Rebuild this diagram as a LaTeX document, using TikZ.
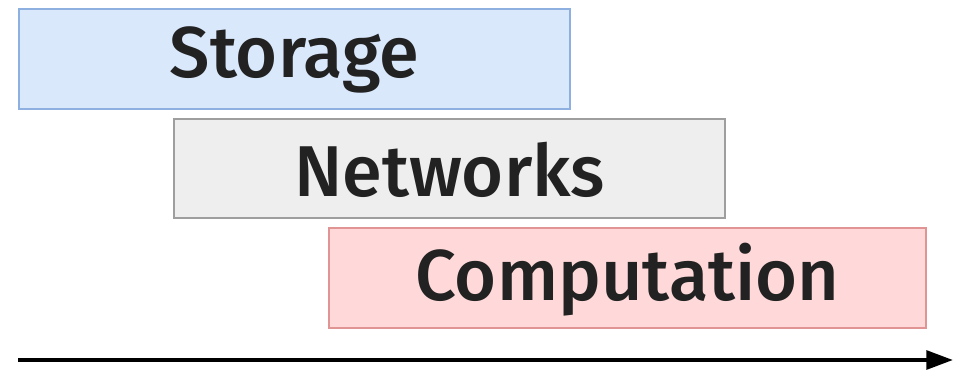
\documentclass[tikz,border=0pt]{standalone}
\usepackage{fontspec}
\setmainfont{Fira Sans}[BoldFont={Fira Sans Medium}]
\usetikzlibrary{arrows.meta}
\definecolor{sfill}{HTML}{DAE8FC}
\definecolor{sdraw}{HTML}{8DB0E0}
\definecolor{nfill}{HTML}{EEEEEE}
\definecolor{ndraw}{HTML}{9E9E9E}
\definecolor{cfill}{HTML}{FFD9D9}
\definecolor{cdraw}{HTML}{E09494}
\definecolor{txt}{HTML}{222222}
\begin{document}
\begin{tikzpicture}[x=0.75pt,y=-0.75pt,
  bar/.style={line width=1.5pt},
  lbl/.style={text=txt,font=\fontsize{54}{60}\selectfont\bfseries,anchor=center}]
\useasboundingbox (0,0) rectangle (958,369);
\draw[bar,fill=sfill,draw=sdraw] (19,9) rectangle (570,109);
\node[lbl] (s) at (294.5,60) {Storage};
\draw[bar,fill=nfill,draw=ndraw] (174,119) rectangle (725,218);
\node[lbl] (n) at (449.5,170) {Networks};
\draw[bar,fill=cfill,draw=cdraw] (329,228) rectangle (926,328);
\node[lbl] (c) at (627.5,280) {Computation};
\coordinate (a0) at (18,360);
\coordinate (a1) at (953,360);
\draw[line width=3pt,-{Triangle[length=20pt,width=14pt]}] (a0) -- (a1);
\end{tikzpicture}
\end{document}
